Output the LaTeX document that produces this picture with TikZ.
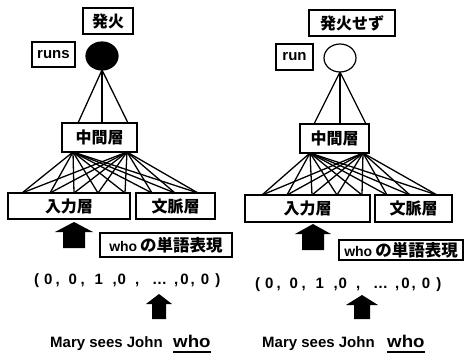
\documentclass[tikz,border=0pt]{standalone}
\usepackage{fontspec}
\usetikzlibrary{shapes.geometric}
\setmainfont{Liberation Sans}
\newfontfamily\jp{Noto Sans CJK JP}
\newcommand{\vecline}{(\hspace{5pt}0\hspace{3pt},\hspace{9pt}0\hspace{3.5pt},\hspace{10pt}1\hspace{9.5pt},\hspace{1pt}0\hspace{9pt},\hspace{13pt}…\hspace{7pt},\hspace{2pt}0\hspace{2pt},\hspace{6pt}0\hspace{6pt})}
\newcommand{\whoword}{\scalebox{1.1}[1]{who}}
\begin{document}
\begin{tikzpicture}[x=1pt,y=-1pt,
  box/.style={draw,line width=1.2pt,inner sep=0pt,font=\fontsize{16}{16}\selectfont\bfseries\jp},
  lbox/.style={draw,line width=1.2pt,inner sep=0pt,font=\fontsize{15}{15}\selectfont\bfseries},
  wbox/.style={draw,line width=1.2pt,inner sep=0pt,font=\fontsize{14}{14}\selectfont\bfseries},
  link/.style={line width=1.3pt},
  vtext/.style={font=\fontsize{15}{15}\selectfont\bfseries,inner sep=0pt,anchor=base west},
  stext/.style={font=\fontsize{15}{15}\selectfont\bfseries,inner sep=0pt,anchor=base west},
  wtext/.style={font=\fontsize{17}{17}\selectfont\bfseries,inner sep=0pt,anchor=base west},
  blockarrow/.style={fill=black}]
\useasboundingbox (0,0) rectangle (466,356);
% ---------- left panel ----------
\node[box,minimum width=50pt,minimum height=26pt] (hL) at (108,21) {発火};
\node[lbox,minimum width=43pt,minimum height=25pt] (rL) at (53.5,54.5) {runs};
\node[draw,fill=black,line width=1.2pt,ellipse,minimum width=32pt,minimum height=28pt,inner sep=0pt] (cL) at (102,56) {};
\node[box,minimum width=75pt,minimum height=29pt] (mL) at (99.5,137.5) {中間層};
\node[box,minimum width=122pt,minimum height=26pt] (iL) at (69,206) {入力層};
\node[box,minimum width=79pt,minimum height=26pt] (bL) at (175.5,206) {文脈層};
\coordinate (cLb) at (102,70);
\foreach \x/\n in {78/1,102/2,128/3} {
  \coordinate (mLt\n) at (\x,123);
  \draw[link] (cLb) -- (mLt\n);
}
\coordinate (hL1) at (73,152);
\coordinate (hL2) at (127,152);
\foreach \x [count=\n] in {22,50,74,98,125,152,175,198} {
  \coordinate (pL\n) at (\x,193);
  \draw[link] (hL1) -- (pL\n);
  \draw[link] (hL2) -- (pL\n);
}
\fill[blockarrow] (74,222) -- (93,232) -- (85,232) -- (85,248) -- (63,248) -- (63,232) -- (55,232) -- cycle;
\node[wbox,minimum width=132pt,minimum height=24pt] (wL) at (166,245) {who\hspace{3pt}{\fontsize{16.5}{16.5}\selectfont\jp の単語表現}};
\node[vtext] (vL) at (34,284) {\vecline};
\fill[blockarrow] (159,294) -- (172,304) -- (166,304) -- (166,319) -- (152,319) -- (152,304) -- (146,304) -- cycle;
\node[stext] (sL) at (50,347) {Mary sees John};
\node[wtext] (wwL) at (173,347) {\whoword};
\draw[line width=1.3pt] ([yshift=-5pt]wwL.base west) -- ([yshift=-5pt]wwL.base east);
% ---------- right panel ----------
\node[box,minimum width=86pt,minimum height=26pt] (hR) at (352,23) {発火せず};
\node[lbox,minimum width=37pt,minimum height=26pt] (rR) at (294.5,57) {run};
\node[draw,line width=1.2pt,ellipse,minimum width=32pt,minimum height=28pt,inner sep=0pt] (cR) at (340,58) {};
\node[box,minimum width=69pt,minimum height=29pt] (mR) at (334.5,138.5) {中間層};
\node[box,minimum width=125pt,minimum height=27pt] (iR) at (307.5,208.5) {入力層};
\node[box,minimum width=77pt,minimum height=27pt] (bR) at (413.5,208.5) {文脈層};
\coordinate (cRb) at (340,72);
\foreach \x/\n in {314/1,340/2,366/3} {
  \coordinate (mRt\n) at (\x,124);
  \draw[link] (cRb) -- (mRt\n);
}
\coordinate (hR1) at (310,153);
\coordinate (hR2) at (363,153);
\foreach \x [count=\n] in {262,287,312,337,362,387,410,437} {
  \coordinate (pR\n) at (\x,195);
  \draw[link] (hR1) -- (pR\n);
  \draw[link] (hR2) -- (pR\n);
}
\fill[blockarrow] (313,224) -- (331,234) -- (324,234) -- (324,250) -- (302,250) -- (302,234) -- (295,234) -- cycle;
\node[wbox,minimum width=124pt,minimum height=20pt] (wR) at (401,250) {who\hspace{3pt}{\fontsize{16.5}{16.5}\selectfont\jp の単語表現}};
\node[vtext] (vR) at (255,288) {\vecline};
\fill[blockarrow] (362,295) -- (378,305) -- (370,305) -- (370,319) -- (354,319) -- (354,305) -- (346,305) -- cycle;
\node[stext] (sR) at (262,347) {Mary sees John};
\node[wtext] (wwR) at (387,347) {\whoword};
\draw[line width=1.3pt] ([yshift=-5pt]wwR.base west) -- ([yshift=-5pt]wwR.base east);
\end{tikzpicture}
\end{document}
